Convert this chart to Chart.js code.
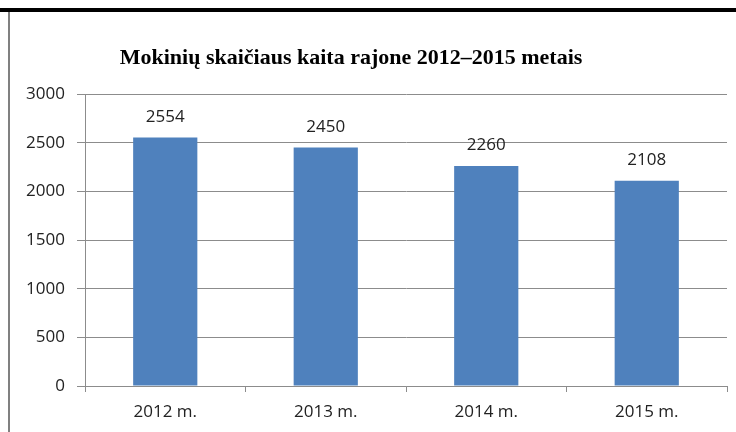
<!DOCTYPE html>
<html>
<head>
<meta charset="utf-8">
<script src="https://cdn.jsdelivr.net/npm/chart.js@4/dist/chart.umd.min.js"></script>
<style>
  html, body { margin: 0; padding: 0; background: #fff; }
  #wrap { position: relative; width: 736px; height: 432px; }
</style>
</head>
<body>
<div id="wrap"><canvas id="chart"></canvas></div>
<script>
const title = 'Mokinių skaičiaus kaita rajone 2012–2015 metais';
const years = ['2012 m.', '2013 m.', '2014 m.', '2015 m.'];
const students = [2554, 2450, 2260, 2108];
const yTicks = [0, 500, 1000, 1500, 2000, 2500, 3000];

const gridGray = '#8c8c8c';

// page frame + title + value labels
const decor = {
    id: 'decor',
    beforeDraw(chart) {
        const c = chart.ctx;
        c.save();
        c.fillStyle = '#fff';
        c.fillRect(0, 0, chart.width, chart.height);
        c.fillStyle = '#000';
        c.fillRect(0, 8, chart.width, 4);
        c.fillStyle = '#808080';
        c.fillRect(8, 12, 2, chart.height - 12);
        c.restore();
    },
    afterDatasetsDraw(chart) {
        const c = chart.ctx;
        c.save();
        c.fillStyle = '#000';
        c.font = 'bold 22px "Liberation Serif", "Times New Roman", serif';
        c.textAlign = 'center';
        c.textBaseline = 'alphabetic';
        c.fillText(title, 351, 64);

        c.fillStyle = '#222';
        c.font = '17px "Open Sans", sans-serif';
        c.textBaseline = 'bottom';
        chart.getDatasetMeta(0).data.forEach((bar, i) => {
            c.fillText(String(students[i]), bar.x, bar.y - 12);
        });
        c.restore();
    }
};

new Chart(document.getElementById('chart'), {
    type: 'bar',
    data: {
        labels: years,
        datasets: [{
            data: students,
            backgroundColor: '#4f81bd',
            categoryPercentage: 1,
            barPercentage: 0.4
        }]
    },
    options: {
        responsive: true,
        maintainAspectRatio: false,
        animation: false,
        layout: { padding: { top: 94, right: 9, left: 0, bottom: 0 } },
        plugins: {
            legend: { display: false },
            title: { display: false },
            tooltip: { enabled: false }
        },
        scales: {
            x: {
                afterFit: (s) => { s.height = 46; },
                grid: {
                    offset: true,
                    drawOnChartArea: false,
                    drawTicks: true,
                    tickLength: 6,
                    color: gridGray
                },
                border: { color: gridGray, width: 1 },
                ticks: {
                    color: '#222',
                    font: { family: '"Open Sans", sans-serif', size: 17 },
                    padding: 10
                }
            },
            y: {
                min: 0,
                max: 3000,
                afterFit: (s) => { s.width = 85; },
                afterBuildTicks: (s) => { s.ticks = yTicks.map(v => ({ value: v })); },
                grid: {
                    color: gridGray,
                    drawTicks: true,
                    tickLength: 8
                },
                border: { color: gridGray, width: 1 },
                ticks: {
                    color: '#222',
                    font: { family: '"Open Sans", sans-serif', size: 17 },
                    padding: 12,
                    callback: (v) => String(v)
                }
            }
        }
    },
    plugins: [decor]
});
</script>
</body>
</html>
